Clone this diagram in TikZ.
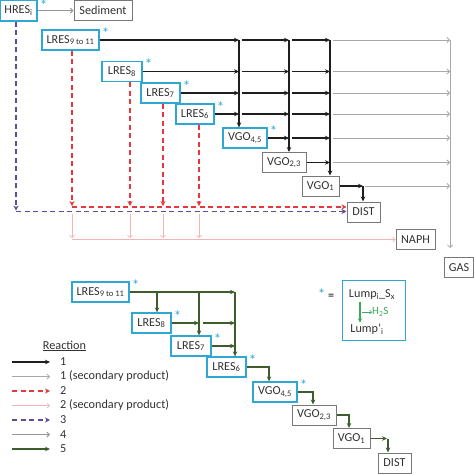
\documentclass[tikz,border=0pt]{standalone}
\usepackage{fontspec}
\setmainfont{Carlito}
\usetikzlibrary{arrows.meta,calc}
\definecolor{cyanb}{RGB}{46,168,210}
\definecolor{boxgray}{RGB}{120,120,120}
\definecolor{textc}{RGB}{50,50,50}
\definecolor{blkc}{RGB}{30,30,30}
\definecolor{secc}{RGB}{168,168,168}
\definecolor{redc}{RGB}{228,56,60}
\definecolor{pinkc}{RGB}{242,180,180}
\definecolor{purpc}{RGB}{96,76,150}
\definecolor{g4c}{RGB}{150,150,150}
\definecolor{grnc}{RGB}{62,92,44}
\definecolor{lgrnc}{RGB}{60,170,90}
\tikzset{
  boxn/.style={draw, minimum height=20pt, inner sep=0pt, text=textc, anchor=center},
  bbox/.style={boxn, draw=cyanb, line width=1.3pt},
  gbox/.style={boxn, draw=boxgray, line width=1pt},
  starn/.style={text=cyanb, font=\fontsize{15}{15}\selectfont, inner sep=0pt, anchor=base west},
  blk/.style={draw=blkc, line width=1.3pt, -{Stealth[length=5pt,width=4.5pt]}},
  sec/.style={draw=secc, line width=0.75pt, -{Straight Barb[length=2.5pt,width=5pt]}},
  redd/.style={draw=redc, line width=1.2pt, dash pattern=on 5pt off 3.5pt, -{Stealth[length=5pt,width=5pt]}},
  pinkd/.style={draw=pinkc, line width=0.7pt, -{Straight Barb[length=2.5pt,width=5pt]}},
  purpd/.style={draw=purpc, line width=1.2pt, dash pattern=on 5pt off 3.5pt, -{Stealth[length=5pt,width=5pt]}},
  gfour/.style={draw=g4c, line width=1pt, -{Straight Barb[length=2.5pt,width=5pt]}},
  grn/.style={draw=grnc, line width=1.3pt, -{Stealth[length=5pt,width=4.5pt]}},
  lgrn/.style={draw=lgrnc, line width=1.1pt, -{Stealth[length=4pt,width=4pt]}},
  lgrnthin/.style={draw=lgrnc, line width=0.7pt, -{Straight Barb[length=2pt,width=4pt]}},
  legt/.style={anchor=west, inner sep=0pt, text=textc},
}
\begin{document}
\begin{tikzpicture}[x=1pt,y=-1pt,font=\fontsize{12.2}{14}\selectfont]
\useasboundingbox (0,0) rectangle (474,474);
% ---------- top section nodes
\node[bbox, minimum width=37pt, minimum height=21pt] (hres) at (18.5,10.5) {HRES\textsubscript{i}};
\node[gbox, minimum width=58pt] (sed) at (103,10.5) {Sediment};
\node[bbox, minimum width=57pt] (lres9) at (70.5,40) {LRES\textsubscript{9 to 11}};
\node[bbox, minimum width=40pt] (lres8) at (122,71.5) {LRES\textsubscript{8}};
\node[bbox, minimum width=39pt] (lres7) at (160.5,93) {LRES\textsubscript{7}};
\node[bbox, minimum width=38pt] (lres6) at (195,114) {LRES\textsubscript{6}};
\node[bbox, minimum width=44pt] (vgo45) at (245,138) {VGO\textsubscript{4,5}};
\node[gbox, minimum width=44pt] (vgo23) at (284,162.5) {VGO\textsubscript{2,3}};
\node[gbox, minimum width=37pt] (vgo1) at (320.5,186) {VGO\textsubscript{1}};
\node[gbox, minimum width=33pt] (dist) at (363.5,212) {DIST};
\node[gbox, minimum width=39pt] (naph) at (415.5,239.5) {NAPH};
\node[gbox, minimum width=29pt] (gas) at (459,267.5) {GAS};
% stars
\node[starn] (s1) at ([xshift=2pt,yshift=-11pt]hres.north east) {*};
\node[starn] (s2) at ([xshift=2pt,yshift=-9pt]lres9.north east) {*};
\node[starn] (s3) at ([xshift=2pt,yshift=-9pt]lres8.north east) {*};
\node[starn] (s4) at ([xshift=2pt,yshift=-9pt]lres7.north east) {*};
\node[starn] (s5) at ([xshift=2pt,yshift=-9pt]lres6.north east) {*};
\node[starn] (s6) at ([xshift=2pt,yshift=-9pt]vgo45.north east) {*};
% verticals
\coordinate (v1) at (239,0);
\coordinate (v2) at (289,0);
\coordinate (v3) at (330,0);
\coordinate (v4) at (363,0);
\coordinate (vg) at (450,0);
% HRES -> Sediment
\draw[gfour] (hres.east) -- (sed.west);
% rows
\foreach \s in {lres9,lres8,lres7,lres6}{
  \draw[blk] (\s.east) -- (\s.east -| v1);
  \draw[blk] ($(\s.east -| v1)+(3,0)$) -- (\s.east -| v2);
  \draw[blk] ($(\s.east -| v2)+(3,0)$) -- (\s.east -| v3);
  \draw[sec] ($(\s.east -| v3)+(3,0)$) -- (\s.east -| vg);
}
\draw[blk] (vgo45.east) -- (vgo45.east -| v2);
\draw[blk] ($(vgo45.east -| v2)+(3,0)$) -- (vgo45.east -| v3);
\draw[sec] ($(vgo45.east -| v3)+(3,0)$) -- (vgo45.east -| vg);
\draw[blk] (vgo23.east) -- (vgo23.east -| v3);
\draw[sec] ($(vgo23.east -| v3)+(3,0)$) -- (vgo23.east -| vg);
\draw[blk] (vgo1.east) -- (vgo1.east -| v4);
\draw[sec] ($(vgo1.east -| v4)+(2,0)$) -- (vgo1.east -| vg);
% vertical collectors
\draw[blk] (lres9.east -| v1) -- (vgo45.north -| v1);
\draw[blk] (lres9.east -| v2) -- (vgo23.north -| v2);
\draw[blk] (lres9.east -| v3) -- (vgo1.north -| v3);
\draw[blk] (vgo1.east -| v4) -- (dist.north -| v4);
\draw[sec, shorten >=9pt] (lres9.east -| vg) -- (gas.north -| vg);
% dashed reaction 2 and 3
\coordinate (rp) at (0,207);
\coordinate (pu) at (0,211.5);
\coordinate (pp) at (16,0);
\coordinate (r1) at (72,0);
\coordinate (r2) at (130,0);
\coordinate (r3) at (163,0);
\coordinate (r4) at (199,0);
\draw[redd] (lres9.south -| r1) -- ($(r1 |- rp)+(0,-1)$);
\draw[redd] (lres8.south -| r2) -- ($(r2 |- rp)+(0,-1)$);
\draw[redd] (lres7.south -| r3) -- ($(r3 |- rp)+(0,-1)$);
\draw[redd] (lres6.south -| r4) -- ($(r4 |- rp)+(0,-1)$);
\draw[redd] (r1 |- rp) -- (dist.west |- rp);
\draw[purpd] (hres.south -| pp) -- ($(pp |- pu)+(0,-1)$);
\draw[purpd] (pp |- pu) -- (dist.west |- pu);
% pink secondary
\draw[pinkd] ($(r1 |- pu)+(0,2)$) -- ($(r1 |- naph.west)+(0,-1.5)$);
\draw[pinkd] ($(r2 |- pu)+(0,2)$) -- ($(r2 |- naph.west)+(0,-1.5)$);
\draw[pinkd] ($(r3 |- pu)+(0,2)$) -- ($(r3 |- naph.west)+(0,-1.5)$);
\draw[pinkd] ($(r4 |- pu)+(0,2)$) -- ($(r4 |- naph.west)+(0,-1.5)$);
\draw[pinkd] (r1 |- naph.west) -- (naph.west);
% ---------- bottom section
\node[bbox, minimum width=57pt] (blres9) at (100.5,292) {LRES\textsubscript{9 to 11}};
\node[bbox, minimum width=39pt] (blres8) at (151.5,323) {LRES\textsubscript{8}};
\node[bbox, minimum width=40pt] (blres7) at (191,346) {LRES\textsubscript{7}};
\node[bbox, minimum width=39pt] (blres6) at (226.5,367) {LRES\textsubscript{6}};
\node[bbox, minimum width=44pt] (bvgo45) at (275,392) {VGO\textsubscript{4,5}};
\node[gbox, minimum width=44pt] (bvgo23) at (314,415) {VGO\textsubscript{2,3}};
\node[gbox, minimum width=37pt] (bvgo1) at (351.5,438.5) {VGO\textsubscript{1}};
\node[gbox, minimum width=33pt] (bdist) at (394.5,463) {DIST};
\node[starn] (s7) at ([xshift=2pt,yshift=-9pt]blres9.north east) {*};
\node[starn] (s8) at ([xshift=2pt,yshift=-9pt]blres8.north east) {*};
\node[starn] (s9) at ([xshift=2pt,yshift=-9pt]blres7.north east) {*};
\node[starn] (s10) at ([xshift=2pt,yshift=-9pt]blres6.north east) {*};
\node[starn] (s11) at ([xshift=2pt,yshift=-9pt]bvgo45.north east) {*};
\coordinate (g1) at (157,0);
\coordinate (g2) at (199,0);
\coordinate (g3) at (235,0);
\coordinate (e1) at (269,0);
\coordinate (e2) at (313,0);
\coordinate (e3) at (349,0);
\coordinate (e4) at (388,0);
\draw[grn] (blres9.east) -- (blres9.east -| g3);
\draw[grn] (blres9.east -| g1) -- (blres8.north -| g1);
\draw[grn] (blres9.east -| g2) -- (blres7.north -| g2);
\draw[grn] (blres9.east -| g3) -- (blres6.north -| g3);
\draw[grn] (blres8.east) -- (blres8.east -| g2);
\draw[grn] ($(blres8.east -| g2)+(4,0)$) -- (blres8.east -| g3);
\draw[grn] (blres7.east) -- (blres7.east -| g3);
\draw[grn] (blres6.east) -| (e1 |- bvgo45.north);
\draw[grn] (bvgo45.east) -| (e2 |- bvgo23.north);
\draw[grn] (bvgo23.east) -| (e3 |- bvgo1.north);
\draw[grn] (bvgo1.east) -- ($(bvgo1.east -| e4)+(-1,0)$);
\draw[grn] (bvgo1.east -| e4) -- (e4 |- bdist.north);
% ---------- star legend
\node[inner sep=0pt] (steq) at (326,294) {\textcolor{cyanb}{\fontsize{15}{15}\selectfont*} =};
\node[draw=cyanb, line width=0.9pt, minimum width=63pt, minimum height=60pt] (lgbox) at (373.5,310) {};
\node[inner sep=1pt, text=textc] (lump1) at (372,295) {Lump\textsubscript{i}\_S\textsubscript{x}};
\node[inner sep=1pt, text=textc] (lump2) at (367,329) {Lump’\textsubscript{i}};
\coordinate (ha) at (360,0);
\draw[lgrn] ($(lump1.south -| ha)+(0,1)$) -- (lump2.north -| ha);
\coordinate (hb) at (362,312);
\node[anchor=west, inner sep=0pt, text=lgrnc, font=\fontsize{11}{12}\selectfont] (h2s) at (372,312) {H\textsubscript{2}S};
\draw[lgrnthin] (hb) -- (h2s.west);
% ---------- reaction legend
\node[inner sep=0pt, text=textc] (rxn) at (64.5,346) {\underline{Reaction}};
\coordinate (la1) at (12,362); \coordinate (lb1) at (50,362);
\coordinate (la2) at (12,376.5); \coordinate (lb2) at (50,376.5);
\coordinate (la3) at (12,391); \coordinate (lb3) at (50,391);
\coordinate (la4) at (12,405.5); \coordinate (lb4) at (50,405.5);
\coordinate (la5) at (12,420); \coordinate (lb5) at (50,420);
\coordinate (la6) at (12,434.5); \coordinate (lb6) at (50,434.5);
\coordinate (la7) at (12,449); \coordinate (lb7) at (50,449);
\draw[blk] (la1) -- (lb1);
\draw[sec] (la2) -- (lb2);
\draw[redd] (la3) -- (lb3);
\draw[pinkd] (la4) -- (lb4);
\draw[purpd] (la5) -- (lb5);
\draw[gfour] (la6) -- (lb6);
\draw[grn] (la7) -- (lb7);
\node[legt] (lt1) at (60,362) {1};
\node[legt] (lt2) at (60,376.5) {1 (secondary product)};
\node[legt] (lt3) at (60,391) {2};
\node[legt] (lt4) at (60,405.5) {2 (secondary product)};
\node[legt] (lt5) at (60,420) {3};
\node[legt] (lt6) at (60,434.5) {4};
\node[legt] (lt7) at (60,449) {5};
\end{tikzpicture}
\end{document}
